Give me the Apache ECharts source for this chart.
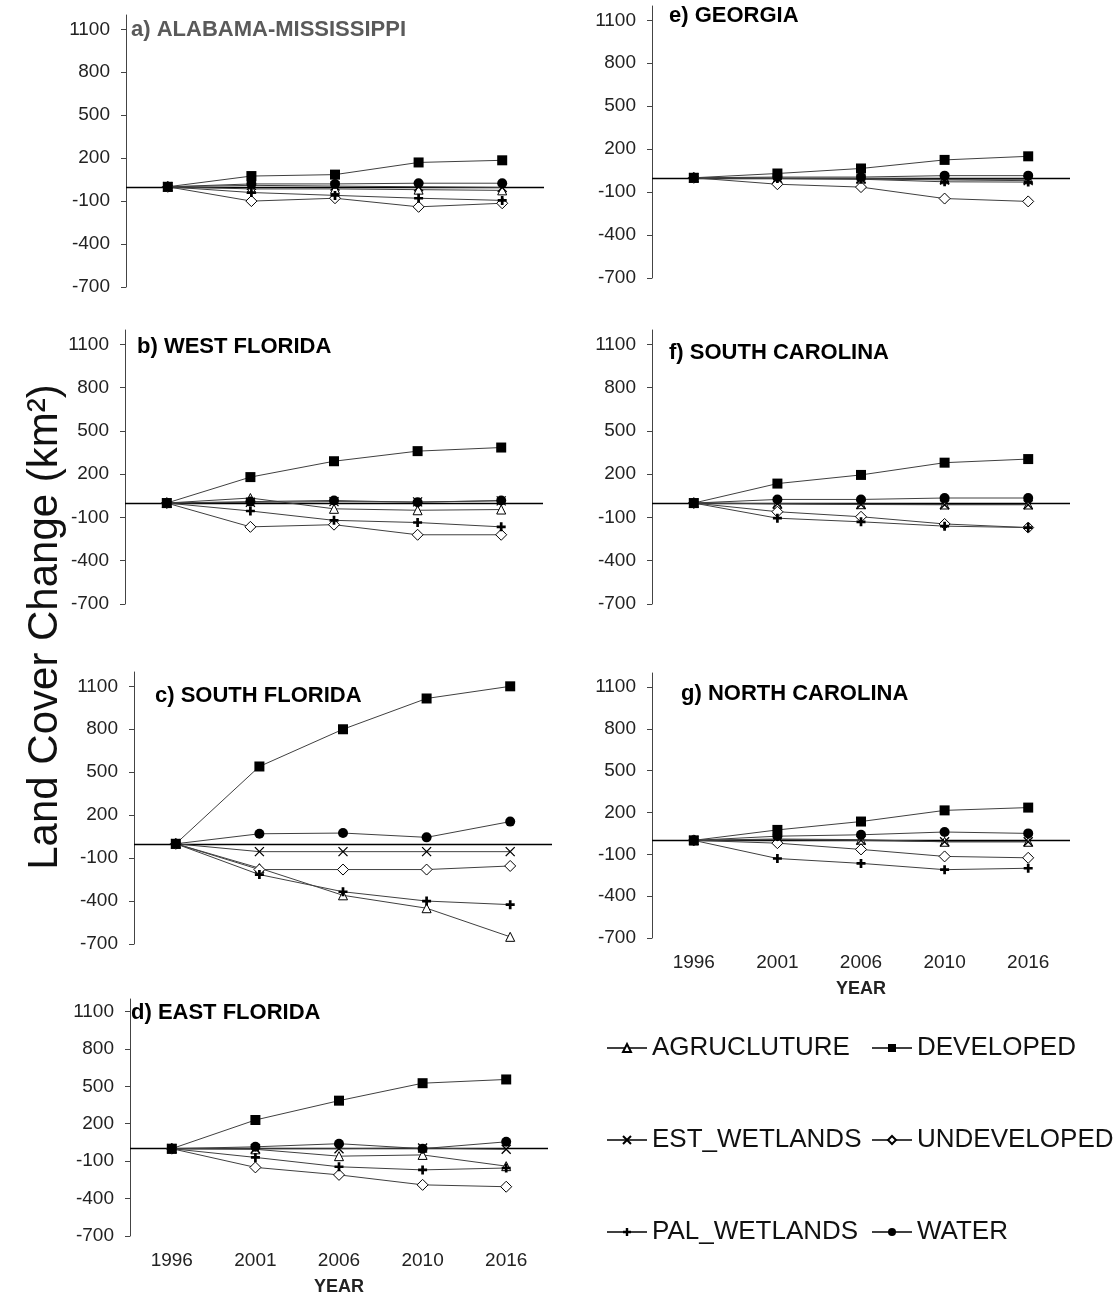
<!DOCTYPE html>
<html>
<head>
<meta charset="utf-8">
<script src="https://cdn.jsdelivr.net/npm/echarts@6/dist/echarts.min.js"></script>
<style>
html,body{margin:0;padding:0;background:#fff;}
#chart{width:1117px;height:1297px;}
</style>
</head>
<body>
<div id="chart"></div>
<script>
// ---------- data ----------
const YEARS = ['1996', '2001', '2006', '2010', '2016'];
const CLASSES = ['AGRUCLUTURE', 'DEVELOPED', 'EST_WETLANDS', 'UNDEVELOPED', 'PAL_WETLANDS', 'WATER'];
const Y_TICKS = [-700, -400, -100, 200, 500, 800, 1100];

// a) Alabama-Mississippi
const AL_AGRI  = [0, -15, -15, -20, -25];
const AL_DEV   = [0, 75, 85, 170, 185];
const AL_EST   = [0, 10, 5, 0, -5];
const AL_UNDEV = [0, -100, -80, -140, -115];
const AL_PAL   = [0, -40, -60, -80, -95];
const AL_WATER = [0, 20, 20, 25, 25];
// b) West Florida
const WF_AGRI  = [0, 35, -40, -50, -45];
const WF_DEV   = [0, 180, 290, 360, 385];
const WF_EST   = [0, 5, 10, 8, 15];
const WF_UNDEV = [0, -165, -150, -220, -220];
const WF_PAL   = [0, -55, -120, -135, -165];
const WF_WATER = [0, 10, 18, 5, 18];
// c) South Florida
const SF_AGRI  = [0, -170, -360, -450, -650];
const SF_DEV   = [0, 540, 800, 1015, 1100];
const SF_EST   = [0, -55, -55, -55, -55];
const SF_UNDEV = [0, -180, -180, -180, -155];
const SF_PAL   = [0, -215, -335, -400, -425];
const SF_WATER = [0, 70, 75, 45, 155];
// d) East Florida
const EF_AGRI  = [0, -5, -60, -50, -140];
const EF_DEV   = [0, 230, 385, 525, 555];
const EF_EST   = [0, 0, 0, 5, -5];
const EF_UNDEV = [0, -150, -210, -290, -305];
const EF_PAL   = [0, -70, -145, -170, -155];
const EF_WATER = [0, 15, 40, 0, 55];
// e) Georgia
const GA_AGRI  = [0, -3, -5, -10, -10];
const GA_DEV   = [0, 30, 65, 125, 150];
const GA_EST   = [0, -5, -8, -15, -20];
const GA_UNDEV = [0, -45, -65, -145, -165];
const GA_PAL   = [0, -5, -10, -28, -30];
const GA_WATER = [0, 5, 5, 15, 15];
// f) South Carolina
const SC_AGRI  = [0, -5, -8, -10, -10];
const SC_DEV   = [0, 135, 195, 280, 305];
const SC_EST   = [0, -5, -10, -12, -12];
const SC_UNDEV = [0, -60, -95, -145, -170];
const SC_PAL   = [0, -105, -130, -160, -170];
const SC_WATER = [0, 25, 25, 35, 35];
// g) North Carolina
const NC_AGRI  = [0, 10, 5, -10, -10];
const NC_DEV   = [0, 75, 135, 215, 235];
const NC_EST   = [0, 5, 0, -10, -10];
const NC_UNDEV = [0, -20, -65, -115, -125];
const NC_PAL   = [0, -130, -165, -210, -200];
const NC_WATER = [0, 30, 40, 60, 50];

const TITLES = ['a) ALABAMA-MISSISSIPPI', 'b) WEST FLORIDA', 'c) SOUTH FLORIDA', 'd) EAST FLORIDA',
                'e) GEORGIA', 'f) SOUTH CAROLINA', 'g) NORTH CAROLINA'];
const REGION_DATA = [
  [AL_AGRI, AL_DEV, AL_EST, AL_UNDEV, AL_PAL, AL_WATER],
  [WF_AGRI, WF_DEV, WF_EST, WF_UNDEV, WF_PAL, WF_WATER],
  [SF_AGRI, SF_DEV, SF_EST, SF_UNDEV, SF_PAL, SF_WATER],
  [EF_AGRI, EF_DEV, EF_EST, EF_UNDEV, EF_PAL, EF_WATER],
  [GA_AGRI, GA_DEV, GA_EST, GA_UNDEV, GA_PAL, GA_WATER],
  [SC_AGRI, SC_DEV, SC_EST, SC_UNDEV, SC_PAL, SC_WATER],
  [NC_AGRI, NC_DEV, NC_EST, NC_UNDEV, NC_PAL, NC_WATER]
];

// ---------- layout / style ----------
const FONT = 'Liberation Sans, Arial, sans-serif';
const LAYOUT = [
  {grid: {left: 126, top: 15,  width: 418, height: 272}, title: {left: 131, top: 17}, color: '#5a5a5a', showX: false},
  {grid: {left: 125, top: 330, width: 418, height: 274}, title: {left: 137, top: 334}, color: '#000', showX: false},
  {grid: {left: 134, top: 672, width: 418, height: 272}, title: {left: 155, top: 683}, color: '#000', showX: false},
  {grid: {left: 130, top: 999, width: 418, height: 237}, title: {left: 131, top: 1000}, color: '#000', showX: true},
  {grid: {left: 652, top: 6,   width: 418, height: 272}, title: {left: 669, top: 3},   color: '#000', showX: false},
  {grid: {left: 652, top: 330, width: 418, height: 274}, title: {left: 669, top: 340}, color: '#000', showX: false},
  {grid: {left: 652, top: 673, width: 418, height: 265}, title: {left: 681, top: 681}, color: '#000', showX: true}
];
const SYMBOLS = {
  AGRUCLUTURE:  {symbol: 'triangle', size: 9,  itemStyle: {color: '#fff', borderColor: '#000', borderWidth: 1}},
  DEVELOPED:    {symbol: 'rect', size: 10, itemStyle: {color: '#000', borderColor: '#000', borderWidth: 0}},
  EST_WETLANDS: {symbol: 'path://M0,0L10,10M10,0L0,10', size: 9, itemStyle: {color: 'rgba(0,0,0,0)', borderColor: '#000', borderWidth: 1.3}},
  UNDEVELOPED:  {symbol: 'diamond', size: 11, itemStyle: {color: '#fff', borderColor: '#000', borderWidth: 1}},
  PAL_WETLANDS: {symbol: 'path://M3.5,0H6.5V3.5H10V6.5H6.5V10H3.5V6.5H0V3.5H3.5Z', size: 9, itemStyle: {color: '#000', borderColor: '#000', borderWidth: 0}},
  WATER:        {symbol: 'circle', size: 10, itemStyle: {color: '#000', borderColor: '#000', borderWidth: 0}}
};

const grids = [], xAxes = [], yAxes = [], titles = [], series = [];
LAYOUT.forEach((L, i) => {
  grids.push(Object.assign({containLabel: false, outerBoundsMode: 'none'}, L.grid));
  titles.push({
    text: TITLES[i], left: L.title.left, top: L.title.top, padding: 0,
    textStyle: {fontFamily: FONT, fontSize: 22, fontWeight: 'bold', color: L.color, lineHeight: 26}
  });
  xAxes.push({
    type: 'category', gridIndex: i, data: YEARS, boundaryGap: true,
    axisLine: {show: false, onZero: false}, axisTick: {show: false},
    axisLabel: {show: L.showX, fontFamily: FONT, fontSize: 19, color: '#222', margin: 15},
    name: L.showX ? 'YEAR' : '', nameLocation: 'middle', nameGap: 42,
    nameTextStyle: {fontFamily: FONT, fontSize: 18, fontWeight: 'bold', color: '#222'},
    splitLine: {show: false}
  });
  yAxes.push({
    type: 'value', gridIndex: i, min: -700, max: 1200,
    axisLine: {show: true, lineStyle: {color: '#444', width: 1}},
    axisTick: {show: true, length: 5, customValues: Y_TICKS, lineStyle: {color: '#444'}},
    axisLabel: {customValues: Y_TICKS, margin: 16, fontFamily: FONT, fontSize: 19, color: '#222',
                formatter: v => String(v)},
    splitLine: {show: false}
  });
  CLASSES.forEach((cls, k) => {
    const S = SYMBOLS[cls];
    const s = {
      name: cls, type: 'line', xAxisIndex: i, yAxisIndex: i,
      data: REGION_DATA[i][k],
      symbol: S.symbol, symbolSize: S.size, showAllSymbol: true,
      lineStyle: {color: '#404040', width: 1},
      itemStyle: S.itemStyle,
      emphasis: {disabled: true},
      z: 3 + k
    };
    if (k === 0) {
      s.markLine = {
        silent: true, symbol: ['none', 'none'], label: {show: false},
        lineStyle: {color: '#000', width: 1.3, type: 'solid'},
        emphasis: {disabled: true},
        data: [{yAxis: 0}], z: 2
      };
    }
    series.push(s);
  });
});

const legendCommon = {
  orient: 'vertical', top: 1033, itemWidth: 40, itemHeight: 10, itemGap: 62, padding: 0,
  selectedMode: false,
  textStyle: {fontFamily: FONT, fontSize: 26, lineHeight: 30, color: '#111'}
};

const option = {
  animation: false,
  backgroundColor: '#fff',
  title: titles,
  grid: grids,
  xAxis: xAxes,
  yAxis: yAxes,
  legend: [
    Object.assign({left: 606, data: ['AGRUCLUTURE', 'EST_WETLANDS', 'PAL_WETLANDS']}, legendCommon),
    Object.assign({left: 871, data: ['DEVELOPED', 'UNDEVELOPED', 'WATER']}, legendCommon)
  ],
  graphic: [{
    type: 'text', x: 45, y: 627, rotation: Math.PI / 2,
    style: {text: 'Land Cover Change (km²)', fontFamily: FONT, fontSize: 42, fill: '#111',
            align: 'center', verticalAlign: 'middle'}
  }],
  series: series
};

const chart = echarts.init(document.getElementById('chart'), null, {renderer: 'canvas'});
chart.setOption(option);
</script>
</body>
</html>
